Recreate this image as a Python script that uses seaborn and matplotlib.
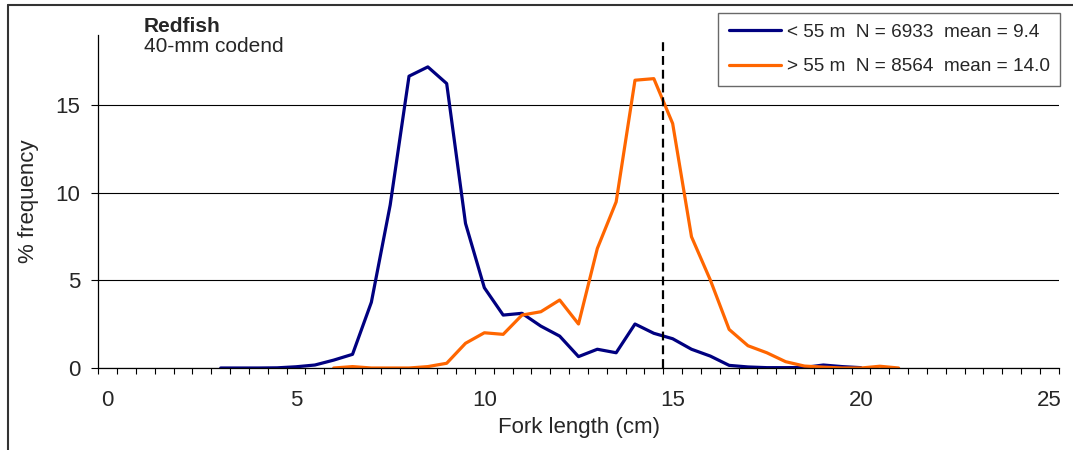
import numpy as np
import pandas as pd
import matplotlib
matplotlib.use("Agg")
import matplotlib.pyplot as plt
from matplotlib.lines import Line2D
import seaborn as sns

# Fork length classes (cm) and % frequency, by depth stratum
shallow_len = [3.0, 3.5, 4.0, 4.5, 5.0, 5.5, 6.0, 6.5, 7.0, 7.5, 8.0, 8.5,
               9.0, 9.5, 10.0, 10.5, 11.0, 11.5, 12.0, 12.5, 13.0, 13.5,
               14.0, 14.5, 15.0, 15.5, 16.0, 16.5, 17.0, 17.5, 18.0, 18.5,
               19.0, 19.5, 20.0]
shallow_freq = [0.0, 0.0, 0.0, 0.01, 0.07, 0.17, 0.45, 0.78, 3.75, 9.3, 16.65, 17.18,
                16.23, 8.25, 4.58, 3.02, 3.12, 2.39, 1.82, 0.65, 1.07, 0.87,
                2.51, 1.98, 1.67, 1.07, 0.68, 0.15, 0.06, 0.02, 0.02, 0.03,
                0.17, 0.08, 0.02]

deep_len = [6.0, 6.5, 7.0, 7.5, 8.0, 8.5, 9.0, 9.5, 10.0, 10.5, 11.0, 11.5,
            12.0, 12.5, 13.0, 13.5, 14.0, 14.5, 15.0, 15.5, 16.0, 16.5,
            17.0, 17.5, 18.0, 18.5, 19.0, 19.5, 20.0, 20.5, 21.0]
deep_freq = [0.0, 0.08, 0.0, 0.0, 0.0, 0.08, 0.27, 1.41, 2.01, 1.92, 3.02, 3.21,
             3.88, 2.51, 6.82, 9.48, 16.42, 16.51, 13.95, 7.49, 5.02, 2.2,
             1.27, 0.87, 0.36, 0.11, 0.05, 0.0, 0.0, 0.1, 0.0]

labels = ["< 55 m  N = 6933  mean = 9.4", "> 55 m  N = 8564  mean = 14.0"]
colors = ["#000080", "#FF6600"]
x_ticks = [0, 5, 10, 15, 20, 25]
y_ticks = [0, 5, 10, 15]
ref_line = 14.75

sns.set_style("white")
plt.rcParams["font.family"] = ["Liberation Sans", "DejaVu Sans"]

df = pd.concat([
    pd.DataFrame({"length": shallow_len, "freq": shallow_freq, "depth": labels[0]}),
    pd.DataFrame({"length": deep_len, "freq": deep_freq, "depth": labels[1]}),
], ignore_index=True)

W, H = 1073, 450
fig, ax = plt.subplots(figsize=(W / 100, H / 100), dpi=100)
fig.subplots_adjust(left=98.3 / W, right=1058.7 / W, top=1 - 35 / H, bottom=1 - 368 / H)

ax.yaxis.grid(True, color="black", linewidth=0.8)
ax.set_axisbelow(True)

sns.lineplot(data=df, x="length", y="freq", hue="depth", hue_order=labels,
             palette=colors, linewidth=2.3, ax=ax, legend=False)

ax.vlines(ref_line, 0, 18.6, colors="black", linestyles=(0, (4, 2.2)), linewidth=1.6)

ax.set_xlim(-0.25, 25.25)
ax.set_ylim(0, 19)
ax.set_xticks(x_ticks)
ax.set_xticklabels([str(t) for t in x_ticks])
ax.set_xticks(np.arange(-0.25, 25.3, 0.5), minor=True)
ax.set_yticks(y_ticks)

ax.tick_params(axis="x", which="major", length=0, pad=16, labelsize=16)
ax.tick_params(axis="x", which="minor", bottom=True, length=4.5, width=0.8,
               direction="out", color="black")
ax.tick_params(axis="y", left=True, length=5, width=0.8, direction="out",
               color="black", pad=8, labelsize=16)

for side in ["top", "right"]:
    ax.spines[side].set_visible(False)
for side in ["left", "bottom"]:
    ax.spines[side].set_color("black")
    ax.spines[side].set_linewidth(0.9)

ax.set_xlabel("Fork length (cm)", fontsize=16)
ax.xaxis.label.set_va("center")
ax.xaxis.set_label_coords(0.5, (368 - 428) / 333)
ax.set_ylabel("% frequency", fontsize=16)
ax.yaxis.label.set_va("center")
ax.yaxis.set_label_coords((28.3 - 98.3) / 960.4, 0.5)

leg = ax.legend(ax.lines[:2], labels, loc="upper right",
                bbox_to_anchor=(1060 / W, 1 - 13 / H), bbox_transform=fig.transFigure,
                borderaxespad=0, frameon=True, fancybox=False, edgecolor="#444444",
                fontsize=13.7, handlelength=2.75, handletextpad=0.3,
                labelspacing=0.9, borderpad=0.55)
leg.get_frame().set_linewidth(1.0)

fig.text(144 / W, 1 - 31.5 / H, "Redfish", fontsize=15, fontweight="bold", va="baseline")
fig.text(144 / W, 1 - 52 / H, "40-mm codend", fontsize=15, va="baseline")

# chart frame (top and left edges visible in the original)
fig.add_artist(Line2D([8 / W, 8 / W], [0, 1 - 5 / H], transform=fig.transFigure,
                      color="#333333", linewidth=1.5))
fig.add_artist(Line2D([8 / W, 1], [1 - 5 / H, 1 - 5 / H], transform=fig.transFigure,
                      color="#333333", linewidth=1.5))

fig.savefig("out.png", dpi=100)
